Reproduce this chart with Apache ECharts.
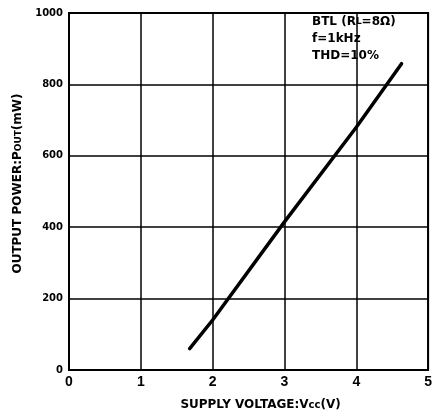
<!DOCTYPE html>
<html><head><meta charset="utf-8">
<script src="https://cdn.jsdelivr.net/npm/echarts@6/dist/echarts.min.js"></script>
<style>html,body{margin:0;padding:0;background:#fff}#c{width:435px;height:416px}</style>
</head><body><div id="c"></div>
<script>
var supplyVoltage = [1.68, 2.0, 3.0, 4.0, 4.63];
var outputPower = [60, 140, 415, 680, 858];
var xTicks = [0, 1, 2, 3, 4, 5];
var yTicks = [0, 200, 400, 600, 800, 1000];

var chart = echarts.init(document.getElementById('c'));
var F = 'Liberation Sans, Arial, sans-serif';
var D = 'DejaVu Sans, sans-serif';
chart.setOption({
  backgroundColor: '#fff',
  animation: false,
  grid: {left: 69, right: 6, top: 13, bottom: 46, show: true, borderColor: '#000', borderWidth: 2},
  xAxis: {
    type: 'value', min: xTicks[0], max: xTicks[xTicks.length - 1], interval: 1,
    axisLine: {show: true, lineStyle: {color: '#000', width: 2}},
    axisTick: {show: false},
    splitLine: {show: true, lineStyle: {color: '#000', width: 1.5}},
    axisLabel: {color: '#000', fontFamily: F, fontWeight: 'bold', fontSize: 14, margin: 5},
    name: '{a|SUPPLY VOLTAGE:V}{s|cc}{a|(V)}', nameLocation: 'middle', nameGap: 29,
    nameTextStyle: {padding: [0, 0, 0, 24], rich: {
      a: {fontFamily: D, fontWeight: 'bold', fontSize: 12, color: '#000'},
      s: {fontFamily: D, fontWeight: 'bold', fontSize: 10, color: '#000'}
    }}
  },
  yAxis: {
    type: 'value', min: yTicks[0], max: yTicks[yTicks.length - 1], interval: 200,
    axisLine: {show: true, lineStyle: {color: '#000', width: 2}},
    axisTick: {show: false},
    splitLine: {show: true, lineStyle: {color: '#000', width: 1.5}},
    axisLabel: {color: '#000', fontFamily: D, fontWeight: 'bold', fontSize: 10, margin: 6,
      formatter: function (v) { return String(v); }},
    name: '{a|OUTPUT POWER:P}{s|OUT}{a|(mW)}', nameLocation: 'middle', nameGap: 42,
    nameTextStyle: {padding: [0, 0, 0, 16], rich: {
      a: {fontFamily: D, fontWeight: 'bold', fontSize: 12, color: '#000'},
      s: {fontFamily: D, fontWeight: 'bold', fontSize: 9, color: '#000'}
    }}
  },
  graphic: [{
    type: 'text', left: 312, top: 16, z: 10,
    style: {
      text: '{a|BTL (R}{s|L}{a|=8Ω)}\n{a|f=1kHz}\n{a|THD=10%}',
      rich: {
        a: {fontFamily: D, fontWeight: 'bold', fontSize: 12, fill: '#000', lineHeight: 17},
        s: {fontFamily: D, fontWeight: 'bold', fontSize: 9, fill: '#000', lineHeight: 17}
      }
    }
  }],
  series: [{
    type: 'line', data: supplyVoltage.map(function (v, i) { return [v, outputPower[i]]; }),
    showSymbol: false, smooth: false,
    lineStyle: {color: '#000', width: 3.5, cap: 'round'}
  }]
});
</script></body></html>
